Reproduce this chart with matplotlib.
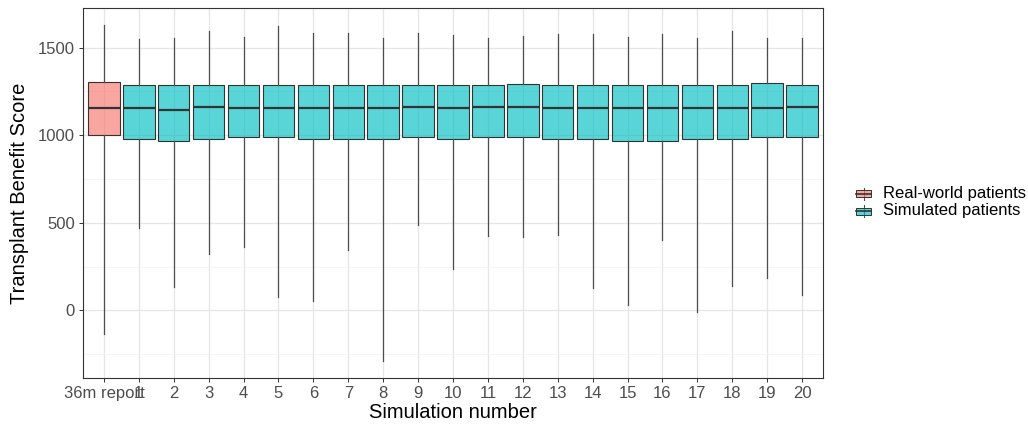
import numpy as np
import matplotlib

matplotlib.use("Agg")
import matplotlib.pyplot as plt
from matplotlib.colors import to_rgba
from matplotlib.legend_handler import HandlerBase
from matplotlib.patches import Patch, Rectangle
from matplotlib.lines import Line2D

plt.rcParams["font.family"] = ["Liberation Sans", "DejaVu Sans"]

# values (Transplant Benefit Score)
labels = ["36m report"] + [str(i) for i in range(1, 21)]
groups = ["real"] + ["sim"] * 20
whislo = [-132, 468, 133, 322, 360, 76, 51, 347, -290, 487, 237,
          426, 417, 430, 127, 32, 403, -9, 142, 184, 89]
q1 = [1003, 979, 966, 979, 990, 990, 979, 979, 979, 990, 979,
      990, 990, 979, 979, 966, 966, 979, 979, 990, 990]
med = [1155, 1155, 1146, 1161, 1155, 1155, 1155, 1155, 1155, 1161, 1155,
       1161, 1161, 1155, 1155, 1155, 1155, 1155, 1155, 1155, 1161]
q3 = [1301, 1288, 1284, 1284, 1284, 1284, 1284, 1284, 1284, 1288, 1288,
      1288, 1292, 1284, 1288, 1284, 1284, 1288, 1284, 1297, 1288]
whishi = [1629, 1547, 1553, 1596, 1562, 1623, 1581, 1581, 1553, 1585, 1572,
          1553, 1566, 1575, 1575, 1558, 1575, 1553, 1596, 1553, 1553]

colors = {"real": "#F8766D", "sim": "#00BFC4"}
legend_names = {"real": "Real-world patients", "sim": "Simulated patients"}
edge = "#333333"
ALPHA = 0.65


class BoxGlyph(HandlerBase):
    # little ggplot-style boxplot key: whisker, box, median
    def create_artists(self, legend, orig, xd, yd, w, h, fs, trans):
        fc = orig.get_facecolor()
        cx = xd + w / 2
        wh = Line2D([cx, cx], [yd - 0.1 * h, yd + 1.1 * h], color="#4D4D4D", lw=0.8)
        box = Rectangle((xd, yd + 0.15 * h), w, 0.7 * h, facecolor=fc,
                        edgecolor=edge, lw=0.7)
        md = Line2D([xd, xd + w], [yd + 0.5 * h] * 2, color=edge, lw=1.2)
        arts = [wh, box, md]
        for a in arts:
            a.set_transform(trans)
        return arts


fig = plt.figure(figsize=(10.28, 4.29), dpi=100)
ax = fig.add_axes([83 / 1028, 1 - 378 / 429, 740 / 1028, 370 / 429])

stats = [dict(whislo=a, q1=b, med=c, q3=d, whishi=e, fliers=[], label=l)
         for a, b, c, d, e, l in zip(whislo, q1, med, q3, whishi, labels)]
pos = np.arange(1, len(labels) + 1)
bp = ax.bxp(stats, positions=pos, widths=0.9, patch_artist=True,
            showcaps=False, showfliers=False,
            boxprops=dict(edgecolor=edge, linewidth=0.8),
            whiskerprops=dict(color="#4D4D4D", linewidth=0.9),
            medianprops=dict(color=edge, linewidth=1.6), zorder=3)
for box, g in zip(bp["boxes"], groups):
    box.set_facecolor(to_rgba(colors[g], ALPHA))

ax.set_xlim(0.4, len(labels) + 0.6)
ax.set_ylim(-386, 1726)
ax.set_yticks([0, 500, 1000, 1500])
ax.set_yticks([-250, 250, 750, 1250], minor=True)
ax.set_xticks(pos)
ax.set_xticklabels(labels)
ax.grid(True, which="major", color="#E6E6E6", linewidth=0.9, zorder=0)
ax.grid(True, which="minor", axis="y", color="#F2F2F2", linewidth=0.5, zorder=0)
ax.set_axisbelow(True)
for s in ax.spines.values():
    s.set_color(edge)
    s.set_linewidth(0.8)
ax.tick_params(which="major", length=3, width=0.7, color=edge,
               labelcolor="#4D4D4D", labelsize=12, pad=3)
ax.tick_params(which="minor", length=0)
ax.set_xlabel("Simulation number", fontsize=14.5, labelpad=1)
ax.set_ylabel("Transplant Benefit Score", fontsize=14.5, labelpad=6)

handles = [Patch(facecolor=to_rgba(colors[g], ALPHA), edgecolor=edge,
                 label=legend_names[g]) for g in ["real", "sim"]]
fig.legend(handles=handles, loc="center left", bbox_to_anchor=(848 / 1028, 1 - 202 / 429),
           frameon=False, fontsize=12, handlelength=0.9, handleheight=0.55,
           handletextpad=0.7, labelspacing=0.15, borderpad=0,
           handler_map={Patch: BoxGlyph()})

fig.savefig("out.png", dpi=100)
